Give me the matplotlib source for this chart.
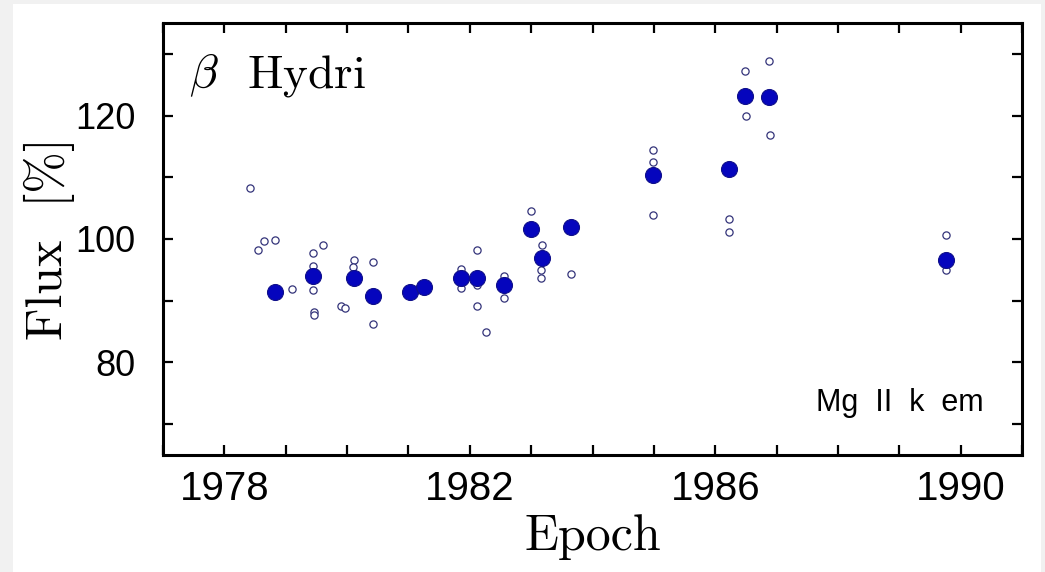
import matplotlib.pyplot as plt
from matplotlib.patches import Rectangle
from matplotlib.ticker import MultipleLocator

# yearly means (filled) and individual measurements (open)
MEAN_EPOCH = [1978.83, 1979.45, 1980.11, 1980.42, 1981.03, 1981.25, 1981.85,
              1982.12, 1982.56, 1982.99, 1983.17, 1983.65, 1984.99, 1986.22,
              1986.49, 1986.88, 1989.76]
MEAN_FLUX = [91.4, 94.0, 93.6, 90.7, 91.4, 92.2, 93.6, 93.7, 92.5, 101.7,
             97.0, 101.9, 110.4, 111.3, 123.2, 123.0, 96.6]

SINGLE_EPOCH = [1978.42, 1978.55, 1978.65, 1978.83, 1979.10, 1979.45, 1979.44,
                1979.45, 1979.46, 1979.46, 1979.61, 1979.90, 1979.96, 1980.11,
                1980.10, 1980.42, 1980.42, 1981.85, 1981.85, 1982.12, 1982.12,
                1982.12, 1982.26, 1982.56, 1982.56, 1982.99, 1983.17, 1983.16,
                1983.16, 1983.65, 1984.99, 1984.99, 1984.99, 1986.22, 1986.22,
                1986.49, 1986.50, 1986.88, 1986.89, 1989.76, 1989.76]
SINGLE_FLUX = [108.2, 98.2, 99.6, 99.8, 91.9, 97.7, 95.6, 91.8, 88.1, 87.7,
               99.1, 89.1, 88.9, 96.6, 95.4, 96.3, 86.3, 95.2, 92.1, 98.2,
               92.6, 89.2, 84.9, 94.0, 90.4, 104.6, 99.1, 94.9, 93.7, 94.3,
               114.4, 112.4, 103.9, 103.3, 101.2, 127.3, 120.0, 128.8, 116.8,
               100.7, 95.0]

SERIF = ["cmr10", "DejaVu Serif"]
SANS = ["Liberation Sans", "DejaVu Sans"]
plt.rcParams["mathtext.fontset"] = "cm"

fig = plt.figure(figsize=(10.45, 5.72), dpi=100, facecolor="#f1f1f1")
fig.patches.append(Rectangle((13 / 1045, 0), 1 - 17 / 1045, 1 - 4 / 572,
                             transform=fig.transFigure, facecolor="white",
                             edgecolor="none", zorder=-10))
ax = fig.add_axes((163 / 1045, 1 - 455 / 572, (1022 - 163) / 1045, (455 - 23) / 572))

ax.plot(SINGLE_EPOCH, SINGLE_FLUX, "o", ms=5.2, mfc="white", mec="#34347a", mew=0.9,
        zorder=2)
ax.plot(MEAN_EPOCH, MEAN_FLUX, "o", ms=11.5, mfc="#0505bd", mec="#10108a", mew=0.8,
        zorder=3)

ax.set_xlim(1977, 1991)
ax.set_ylim(65, 135)
ax.xaxis.set_major_locator(MultipleLocator(4, offset=2))
ax.xaxis.set_minor_locator(MultipleLocator(1))
ax.yaxis.set_major_locator(MultipleLocator(20))
ax.yaxis.set_minor_locator(MultipleLocator(10))
ax.tick_params(which="both", direction="in", top=True, right=True, length=7, width=1.6)
ax.tick_params(axis="x", pad=11)
ax.tick_params(axis="y", pad=20)
for lab in ax.get_xticklabels():
    lab.set_family(SANS)
    lab.set_fontsize(29)
for lab in ax.get_yticklabels():
    lab.set_family(SANS)
    lab.set_fontsize(26)
for s in ax.spines.values():
    s.set_linewidth(2.2)

ax.set_xlabel("Epoch", family=SERIF, fontsize=36, labelpad=4)
ax.set_ylabel("Flux  [%]", family=SERIF, fontsize=36, labelpad=0)

ax.text(0.03, 0.935, r"$\beta$  Hydri", transform=ax.transAxes, family=SERIF,
        fontsize=34, va="top")
ax.text(0.955, 0.085, "Mg  II  k  em", transform=ax.transAxes, family=SANS,
        fontsize=22, ha="right", va="bottom")

fig.savefig("out.png", dpi=100, facecolor=fig.get_facecolor())
